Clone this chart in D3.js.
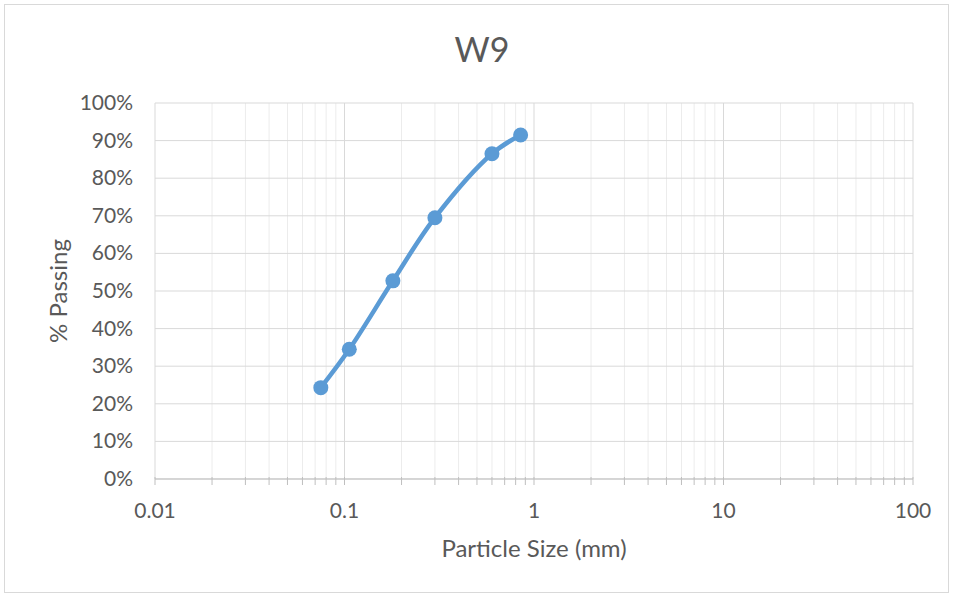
<!DOCTYPE html>
<html lang="en">
<head>
    <meta charset="UTF-8">
    <script src="https://d3js.org/d3.v7.min.js"></script>
    <title>W9</title>
    <style>
        body { margin: 0; background: #fff; }
        text { font-family: Lato, 'Open Sans', sans-serif; fill: #595959; }
    </style>
</head>
<body>
<svg height="597" width="953"></svg>
<script>
    const width = 953, height = 597;
    const margin = {left: 155, right: 40, top: 103, bottom: 118};

    // sieve data
    const sizes = [0.075, 0.106, 0.18, 0.3, 0.6, 0.85];
    const passing = [0.243, 0.345, 0.527, 0.695, 0.865, 0.915];
    const xTicks = [0.01, 0.1, 1, 10, 100];
    const yTicks = [0, 0.1, 0.2, 0.3, 0.4, 0.5, 0.6, 0.7, 0.8, 0.9, 1];

    const svg = d3.select("svg");

    svg.append("rect")
        .attr("x", 4.5).attr("y", 4.5)
        .attr("width", width - 9).attr("height", height - 9)
        .attr("fill", "#fff").attr("stroke", "#d9d9d9");

    const x = d3.scaleLog().domain([0.01, 100]).range([margin.left, width - margin.right]);
    const y = d3.scaleLinear().domain([0, 1]).range([height - margin.bottom, margin.top]);

    // minor ticks 2..9 in every decade
    const minor = [];
    for (let e = -2; e < 2; e++) {
        for (let m = 2; m <= 9; m++) minor.push(m * Math.pow(10, e));
    }

    const grid = svg.append("g");
    grid.selectAll("line.minor").data(minor).enter().append("line")
        .attr("x1", x).attr("x2", x)
        .attr("y1", y(0)).attr("y2", y(1))
        .attr("stroke", "#ececec").attr("stroke-width", 1);
    grid.selectAll("line.hy").data(yTicks).enter().append("line")
        .attr("x1", x(0.01)).attr("x2", x(100))
        .attr("y1", y).attr("y2", y)
        .attr("stroke", "#d9d9d9").attr("stroke-width", 1);
    grid.selectAll("line.major").data(xTicks).enter().append("line")
        .attr("x1", x).attr("x2", x)
        .attr("y1", y(0)).attr("y2", y(1))
        .attr("stroke", "#d9d9d9").attr("stroke-width", 1);

    // x axis: tick marks + labelled decades
    const xAxis = svg.append("g").attr("transform", `translate(0,${y(0)})`);
    xAxis.append("line")
        .attr("x1", x(0.01)).attr("x2", x(100))
        .attr("stroke", "#bfbfbf");
    xAxis.selectAll("line.t").data(minor.concat(xTicks)).enter().append("line")
        .attr("x1", x).attr("x2", x)
        .attr("y1", -2).attr("y2", 6)
        .attr("stroke", "#bfbfbf");
    xAxis.selectAll("text").data(xTicks).enter().append("text")
        .attr("x", x).attr("y", 39)
        .attr("text-anchor", "middle")
        .style("font-size", "21px")
        .text(d => d);

    // y axis labels
    svg.append("g").selectAll("text").data(yTicks).enter().append("text")
        .attr("x", 133).attr("y", d => y(d) + 7)
        .attr("text-anchor", "end")
        .style("font-size", "21px")
        .text(d3.format(".0%"));

    // smoothed curve and markers
    const pts = sizes.map((s, i) => [s, passing[i]]);
    const line = d3.line()
        .x(d => x(d[0])).y(d => y(d[1]))
        .curve(d3.curveCatmullRom.alpha(0.5));
    svg.append("path").datum(pts)
        .attr("d", line)
        .attr("fill", "none")
        .attr("stroke", "#5b9bd5")
        .attr("stroke-width", 4.5)
        .attr("stroke-linecap", "round");
    svg.selectAll("circle").data(pts).enter().append("circle")
        .attr("cx", d => x(d[0])).attr("cy", d => y(d[1]))
        .attr("r", 7.5)
        .attr("fill", "#5b9bd5");

    // titles
    svg.append("text")
        .attr("x", 482).attr("y", 62)
        .attr("text-anchor", "middle")
        .style("font-size", "34px")
        .text("W9");
    svg.append("text")
        .attr("x", x(1)).attr("y", 557)
        .attr("text-anchor", "middle")
        .style("font-size", "24px")
        .text("Particle Size (mm)");
    svg.append("text")
        .attr("transform", `translate(67,${(y(0) + y(1)) / 2}) rotate(-90)`)
        .attr("text-anchor", "middle")
        .style("font-size", "24px")
        .text("% Passing");
</script>
</body>
</html>
